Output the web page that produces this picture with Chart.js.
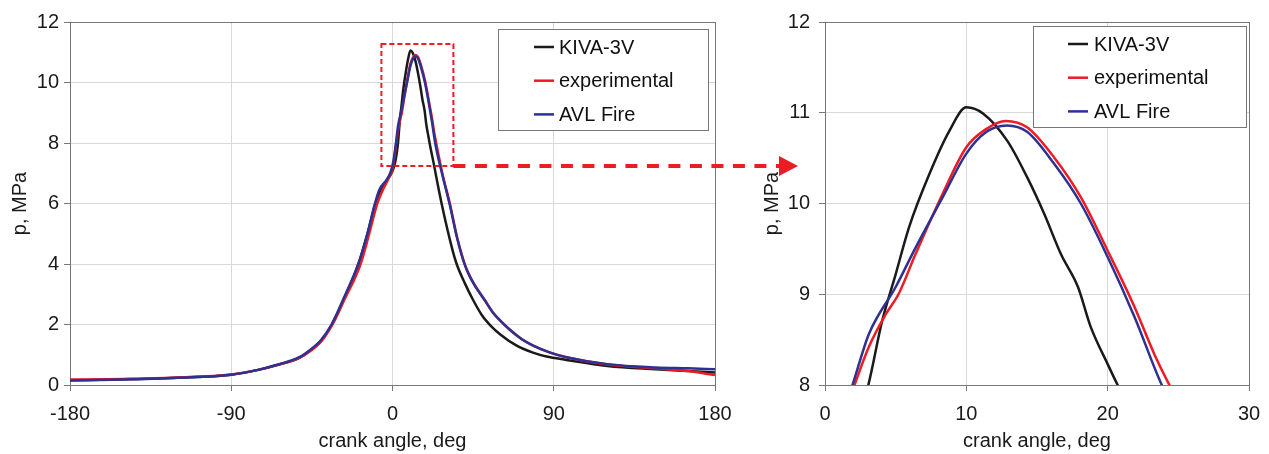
<!DOCTYPE html>
<html>
<head>
<meta charset="utf-8">
<title>Cylinder pressure</title>
<script src="https://cdn.jsdelivr.net/npm/chart.js@4.4.1/dist/chart.umd.min.js"></script>
<style>
  body { margin: 0; background: #fff; }
  #wrap { position: relative; width: 1269px; height: 454px; }
  #left { position: absolute; left: 0; top: 0; z-index: 2; }
  #right { position: absolute; left: 740px; top: 0; z-index: 1; }
</style>
</head>
<body>
<div id="wrap">
  <canvas id="right" width="529" height="454"></canvas>
  <canvas id="left" width="805" height="454"></canvas>
</div>
<script>
// crank angle (deg) and pressure (MPa)
let kivaAngle = [-180, -150, -120, -90, -75, -65, -52, -46, -40, -34, -27, -19, -14, -9.8, -7, -3.5, -1, 0.5, 1.8, 3,
  4.05, 5, 5.95, 7.4, 8.8, 10, 11.2, 12.9, 14.3, 15.5, 16.7, 17.9, 18.8, 20, 20.8, 22.4, 27.4, 33.5, 35.8, 40.4,
  45, 50, 55, 60, 69.3, 78, 86, 97, 120, 147, 165, 180];
let kivaP = [0.16, 0.19, 0.24, 0.34, 0.5, 0.65, 0.9, 1.14, 1.45, 1.98, 2.85, 4.0, 5.0, 5.95, 6.4, 6.75, 6.95, 7.15, 7.45, 7.96,
  8.71, 9.22, 9.74, 10.33, 10.8, 11.06, 10.99, 10.69, 10.29, 9.89, 9.44, 9.08, 8.64, 8.23, 7.97, 7.5, 6.0, 4.46, 4.0, 3.36,
  2.81, 2.3, 1.95, 1.68, 1.3, 1.08, 0.94, 0.83, 0.63, 0.52, 0.46, 0.41];

let expAngle = [-180, -150, -120, -90, -75, -65, -52, -46, -40, -33.5, -27, -17.8, -13, -8.5, -5, -2, 0, 1, 2, 3.1,
  4.3, 5.2, 6.4, 8.3, 10, 11.4, 12.8, 14.3, 16.2, 18.1, 20, 21.9, 23.3, 24.5, 28, 32, 36, 40.4, 43, 46,
  51.6, 56, 61, 66, 72, 78.5, 88, 97, 120, 147, 165, 180];
let expP = [0.18, 0.2, 0.25, 0.35, 0.5, 0.65, 0.9, 1.12, 1.42, 2.0, 2.8, 4.0, 5.0, 6.0, 6.5, 6.85, 7.15, 7.5, 7.96, 8.42,
  8.78, 9.0, 9.44, 10.1, 10.62, 10.82, 10.91, 10.84, 10.51, 10.07, 9.48, 8.86, 8.34, 7.96, 6.95, 6.0, 4.9, 3.98, 3.62, 3.3,
  2.8, 2.4, 2.08, 1.8, 1.52, 1.3, 1.07, 0.92, 0.68, 0.55, 0.46, 0.33];

let avlAngle = [-180, -150, -120, -90, -75, -65, -52, -46, -40, -34, -27, -19.1, -14, -9.8, -7.4, -3.3, -1, 0.5, 1.86, 3.1,
  5, 6.43, 8.33, 10, 11.43, 12.86, 14.3, 16.2, 18.1, 20, 21.9, 23.95, 28, 32, 36, 40.4, 43, 46, 51.6, 56,
  61, 66, 72, 78.5, 88, 97, 120, 147, 165, 180];
let avlP = [0.15, 0.18, 0.24, 0.34, 0.5, 0.66, 0.92, 1.16, 1.48, 2.0, 2.9, 4.0, 5.0, 6.0, 6.45, 6.78, 7.05, 7.4, 7.96, 8.56,
  9.08, 9.52, 10.07, 10.55, 10.79, 10.86, 10.79, 10.44, 10.0, 9.41, 8.75, 7.96, 6.9, 5.95, 4.87, 3.96, 3.6, 3.28, 2.79, 2.4,
  2.08, 1.8, 1.52, 1.3, 1.07, 0.92, 0.69, 0.58, 0.55, 0.52];

let seriesNames = ["KIVA-3V", "experimental", "AVL Fire"];

// axes: min, max, step
let fullAngleTicks = [-180, 180, 90];
let fullPTicks = [0, 12, 2];
let zoomAngleTicks = [0, 30, 10];
let zoomPTicks = [8, 12, 1];

// dashed box that marks the zoomed region on the left chart
let boxAngle = [-6.2, 34];
let boxP = [7.24, 11.27];

Chart.defaults.font.family = '"Liberation Sans", Arial, sans-serif';
Chart.defaults.font.size = 20;
Chart.defaults.color = "#1a1a1a";

function pts(a, p) {
  let out = [];
  for (let i = 0; i < a.length; i++) out.push({ x: a[i], y: p[i] });
  return out;
}

function makeDatasets() {
  let line = { pointRadius: 0, borderWidth: 2.5, fill: false, cubicInterpolationMode: "monotone" };
  return [
    Object.assign({ label: seriesNames[0], data: pts(kivaAngle, kivaP), borderColor: "#1a1a1a", order: 3 }, line),
    Object.assign({ label: seriesNames[1], data: pts(expAngle, expP), borderColor: "#ec1c24", order: 2 }, line),
    Object.assign({ label: seriesNames[2], data: pts(avlAngle, avlP), borderColor: "#2e3192", order: 1 }, line)
  ];
}

// grey frame round the plot area
let frame = {
  id: "frame",
  beforeDatasetsDraw(chart) {
    let a = chart.chartArea, ctx = chart.ctx;
    ctx.save();
    ctx.strokeStyle = "#777";
    ctx.lineWidth = 1;
    ctx.strokeRect(Math.round(a.left) + 0.5, Math.round(a.top) + 0.5,
      Math.round(a.right - a.left), Math.round(a.bottom - a.top));
    ctx.restore();
  }
};

// boxed legend inside the plot
let boxLegend = {
  id: "boxLegend",
  afterDraw(chart, args, o) {
    let a = chart.chartArea, ctx = chart.ctx;
    let x = Math.round(a.right - o.right - o.w), y = Math.round(a.top + o.top);
    ctx.save();
    ctx.fillStyle = "#fff";
    ctx.fillRect(x, y, o.w, o.h);
    ctx.strokeStyle = "#777";
    ctx.lineWidth = 1;
    ctx.strokeRect(x + 0.5, y + 0.5, o.w, o.h);
    ctx.font = '20px "Liberation Sans", Arial, sans-serif';
    ctx.textBaseline = "middle";
    chart.data.datasets.forEach(function (ds, i) {
      let ly = y + o.row0 + i * o.gap;
      ctx.strokeStyle = ds.borderColor;
      ctx.lineWidth = 2.5;
      ctx.beginPath();
      ctx.moveTo(x + o.line0, ly);
      ctx.lineTo(x + o.line0 + 20, ly);
      ctx.stroke();
      ctx.fillStyle = "#111";
      ctx.fillText(ds.label, x + o.text0, ly + 1);
    });
    ctx.restore();
  }
};

// dashed zoom box and arrow pointing to the right chart
let zoomMark = {
  id: "zoomMark",
  afterDatasetsDraw(chart, args, o) {
    if (!o.show) return;
    let ctx = chart.ctx, xs = chart.scales.x, ys = chart.scales.y;
    let l = xs.getPixelForValue(boxAngle[0]), r = xs.getPixelForValue(boxAngle[1]);
    let t = ys.getPixelForValue(boxP[1]), b = ys.getPixelForValue(boxP[0]);
    let tip = chart.chartArea.right + o.reach;
    ctx.save();
    ctx.strokeStyle = "#ec1c24";
    ctx.fillStyle = "#ec1c24";
    ctx.lineWidth = 2;
    ctx.setLineDash([5, 3]);
    ctx.strokeRect(l, t, r - l, b - t);
    ctx.lineWidth = 4;
    ctx.setLineDash([12, 9.5]);
    ctx.beginPath();
    ctx.moveTo(r, b);
    ctx.lineTo(tip - 17, b);
    ctx.stroke();
    ctx.setLineDash([]);
    ctx.beginPath();
    ctx.moveTo(tip, b);
    ctx.lineTo(tip - 19, b - 10);
    ctx.lineTo(tip - 19, b + 10);
    ctx.closePath();
    ctx.fill();
    ctx.restore();
  }
};

function makeChart(id, xt, yt, pad, yw, yTitlePad, yTickPad, legend, mark) {
  return new Chart(document.getElementById(id), {
    type: "line",
    data: { datasets: makeDatasets() },
    options: {
      responsive: false,
      animation: false,
      layout: { padding: pad },
      plugins: {
        legend: { display: false },
        tooltip: { enabled: false },
        boxLegend: legend,
        zoomMark: mark
      },
      scales: {
        x: {
          type: "linear",
          min: xt[0], max: xt[1],
          ticks: { stepSize: xt[2], padding: 11, color: "#1a1a1a" },
          grid: { color: "#d9d9d9", tickColor: "#777", tickLength: 6 },
          border: { color: "#777" },
          title: { display: true, text: "crank angle, deg", color: "#1a1a1a", padding: { top: 0, bottom: 1 } },
          afterFit: function (s) {
            s.height = 69;
            s.paddingLeft = 0;
            s.paddingRight = 0;
          }
        },
        y: {
          min: yt[0], max: yt[1],
          ticks: { stepSize: yt[2], padding: yTickPad, color: "#1a1a1a" },
          grid: { color: "#d9d9d9", tickColor: "#777", tickLength: 6 },
          border: { color: "#777" },
          title: { display: true, text: "p, MPa", color: "#1a1a1a", padding: { top: yTitlePad, bottom: 0 } },
          afterFit: function (s) { s.width = yw; }
        }
      }
    },
    plugins: [frame, boxLegend, zoomMark]
  });
}

makeChart("right", zoomAngleTicks, zoomPTicks, { left: 0, top: 22, right: 20, bottom: 0 }, 85, 20, 9,
  { w: 213, h: 101, right: 3, top: 4, row0: 18, gap: 33.7, line0: 35, text0: 61 },
  { show: false });

makeChart("left", fullAngleTicks, fullPTicks, { left: 0, top: 22, right: 90, bottom: 0 }, 70, 8, 5,
  { w: 210, h: 101, right: 7, top: 7, row0: 18, gap: 33.7, line0: 36, text0: 61 },
  { show: true, reach: 83 });
</script>
</body>
</html>
